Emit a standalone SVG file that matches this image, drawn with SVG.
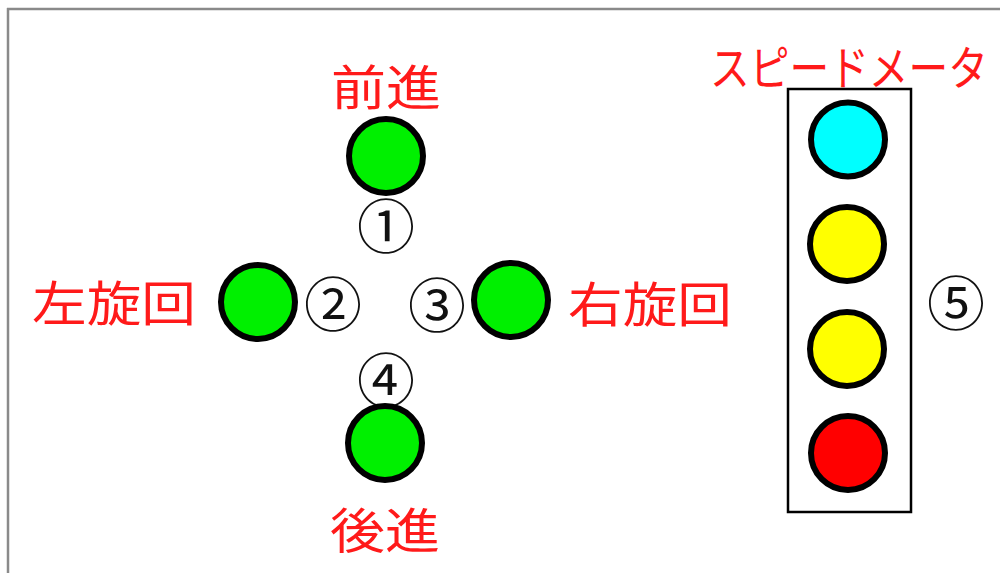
<svg xmlns="http://www.w3.org/2000/svg" width="1000" height="573" viewBox="0 0 1000 573">
<style>
.lbl{font-family:"Noto Sans CJK JP","Noto Sans CJK SC",sans-serif;fill:#ff1a1a;font-size:48px;text-anchor:middle;dominant-baseline:central}
.num{font-family:"Noto Sans CJK JP","Noto Sans CJK SC",sans-serif;fill:#111;font-size:58px;text-anchor:middle;dominant-baseline:central}
.lamp{stroke:#000;stroke-width:6}
.g{fill:#00f000}
</style>
<rect x="0" y="0" width="1000" height="573" fill="#fff"/>
<g id="frame" stroke="#8a8a8a" stroke-width="2.5">
<line x1="7" y1="9" x2="1000" y2="9"/>
<line x1="8" y1="8" x2="8" y2="573"/>
</g>
<g id="forward">
<text class="lbl" x="386" y="84" textLength="110" lengthAdjust="spacingAndGlyphs">前進</text>
<circle class="lamp g" cx="386" cy="156" r="37"/>
<text class="num" x="386" y="223">①</text>
</g>
<g id="left">
<text class="lbl" x="114" y="300" textLength="164" lengthAdjust="spacingAndGlyphs">左旋回</text>
<circle class="lamp g" cx="258" cy="302" r="37"/>
<text class="num" x="333" y="301">②</text>
</g>
<g id="right">
<text class="num" x="437" y="302">③</text>
<circle class="lamp g" cx="511" cy="300" r="37"/>
<text class="lbl" x="650" y="301" textLength="164" lengthAdjust="spacingAndGlyphs">右旋回</text>
</g>
<g id="backward">
<text class="num" x="386" y="377">④</text>
<circle class="lamp g" cx="385" cy="443" r="37"/>
<text class="lbl" x="385" y="527" textLength="110" lengthAdjust="spacingAndGlyphs">後進</text>
</g>
<g id="speedmeter">
<text class="lbl" style="font-size:42px" transform="translate(849,64) scale(1,1.12)" x="0" y="0" textLength="278" lengthAdjust="spacingAndGlyphs">スピードメータ</text>
<rect x="788" y="89" width="123" height="423" fill="none" stroke="#000" stroke-width="2.5"/>
<circle class="lamp" cx="848" cy="139.5" r="37" fill="#00ffff"/>
<circle class="lamp" cx="847" cy="244" r="37" fill="#ffff00"/>
<circle class="lamp" cx="847" cy="349" r="37" fill="#ffff00"/>
<circle class="lamp" cx="848" cy="453" r="37" fill="#ff0000"/>
<text class="num" x="956" y="300">⑤</text>
</g>
</svg>
